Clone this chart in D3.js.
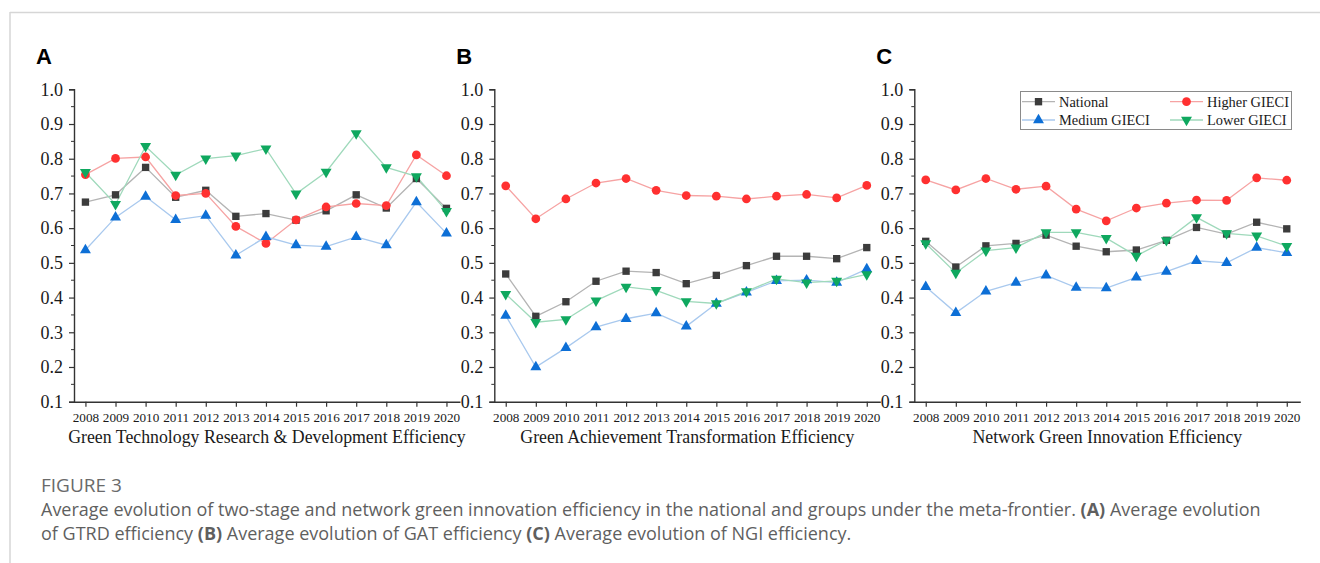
<!DOCTYPE html>
<html>
<head>
<meta charset="utf-8">
<script src="https://cdn.jsdelivr.net/npm/d3@7"></script>
<style>
  body { margin: 0; background: #fff; }
  svg { display: block; }
</style>
</head>
<body>
<div id="chart"></div>
<script>
// Data
const years = [2008, 2009, 2010, 2011, 2012, 2013, 2014, 2015, 2016, 2017, 2018, 2019, 2020]
const yTicks = [0.1, 0.2, 0.3, 0.4, 0.5, 0.6, 0.7, 0.8, 0.9, 1.0]
const seriesNames = ['National', 'Higher GIECI', 'Medium GIECI', 'Lower GIECI']

// Panel A: Green Technology Research & Development Efficiency
const gtrdNational = [0.675, 0.696, 0.775, 0.689, 0.709, 0.634, 0.642, 0.623, 0.650, 0.696, 0.658, 0.743, 0.657]
const gtrdHigher = [0.754, 0.801, 0.805, 0.694, 0.700, 0.605, 0.556, 0.624, 0.661, 0.671, 0.665, 0.811, 0.751]
const gtrdMedium = [0.537, 0.631, 0.691, 0.624, 0.636, 0.522, 0.575, 0.551, 0.547, 0.575, 0.551, 0.675, 0.585]
const gtrdLower = [0.761, 0.669, 0.836, 0.753, 0.800, 0.809, 0.829, 0.699, 0.762, 0.873, 0.775, 0.749, 0.649]

// Panel B: Green Achievement Transformation Efficiency
const gatNational = [0.468, 0.346, 0.388, 0.447, 0.476, 0.472, 0.440, 0.464, 0.492, 0.519, 0.519, 0.512, 0.544]
const gatHigher = [0.722, 0.627, 0.684, 0.730, 0.743, 0.709, 0.694, 0.692, 0.684, 0.692, 0.697, 0.687, 0.723]
const gatMedium = [0.348, 0.200, 0.255, 0.315, 0.339, 0.355, 0.317, 0.383, 0.415, 0.448, 0.450, 0.443, 0.482]
const gatLower = [0.410, 0.329, 0.337, 0.391, 0.431, 0.421, 0.389, 0.383, 0.418, 0.454, 0.443, 0.448, 0.467]

// Panel C: Network Green Innovation Efficiency
const ngiNational = [0.562, 0.488, 0.549, 0.556, 0.580, 0.548, 0.532, 0.537, 0.565, 0.602, 0.583, 0.617, 0.598]
const ngiHigher = [0.739, 0.710, 0.743, 0.712, 0.721, 0.655, 0.621, 0.658, 0.672, 0.681, 0.680, 0.745, 0.738]
const ngiMedium = [0.431, 0.356, 0.418, 0.443, 0.464, 0.429, 0.427, 0.458, 0.475, 0.506, 0.500, 0.544, 0.529]
const ngiLower = [0.556, 0.471, 0.535, 0.544, 0.588, 0.588, 0.571, 0.520, 0.565, 0.631, 0.585, 0.578, 0.548]

const panelLetters = ['A', 'B', 'C']
const panelTitles = [
  'Green Technology Research & Development Efficiency',
  'Green Achievement Transformation Efficiency',
  'Network Green Innovation Efficiency',
]

const figureLabel = 'FIGURE 3'

// Styles per series
const styles = [
  { line: '#b4b4b4', fill: '#3c3c3c', symbol: d3.symbolSquare, size: 54, rotate: 0 },
  { line: '#f6a3a3', fill: '#ff3030', symbol: d3.symbolCircle, size: 60, rotate: 0 },
  { line: '#a9c9ee', fill: '#0d6fd6', symbol: d3.symbolTriangle, size: 52, rotate: 0 },
  { line: '#9fd9bb', fill: '#0fa85f', symbol: d3.symbolTriangle, size: 52, rotate: 180 },
]

const panels = [
  [gtrdNational, gtrdHigher, gtrdMedium, gtrdLower],
  [gatNational, gatHigher, gatMedium, gatLower],
  [ngiNational, ngiHigher, ngiMedium, ngiLower],
]

// Dimensions
const dimensions = {
  width: 1320,
  height: 563,
  top: 89.3,
  bottom: 401.7,
  plotWidth: 386,
  lefts: [74, 494.3, 914.3],
}

const svg = d3
  .select('#chart')
  .append('svg')
  .attr('width', dimensions.width)
  .attr('height', dimensions.height)

// Outer frame (top and left rules)
svg.append('line')
  .attr('x1', 10).attr('x2', dimensions.width)
  .attr('y1', 12.5).attr('y2', 12.5)
  .attr('stroke', '#d6d6d6').attr('stroke-width', 1.5)
svg.append('line')
  .attr('x1', 10).attr('x2', 10)
  .attr('y1', 12).attr('y2', dimensions.height)
  .attr('stroke', '#d6d6d6').attr('stroke-width', 1.5)

const yScale = d3
  .scaleLinear()
  .domain([0.1, 1.0])
  .range([dimensions.bottom, dimensions.top])

const serif = '"Liberation Serif", "Times New Roman", serif'

panels.forEach((series, p) => {
  const left = dimensions.lefts[p]
  const xScale = d3
    .scaleLinear()
    .domain([2007.62, 2020.45])
    .range([left, left + dimensions.plotWidth])

  const ctr = svg.append('g')

  // Panel letter
  ctr.append('text')
    .attr('x', left - 38)
    .attr('y', 64)
    .attr('font-family', '"Liberation Sans", Arial, sans-serif')
    .attr('font-weight', 'bold')
    .attr('font-size', 22)
    .attr('fill', '#000')
    .text(panelLetters[p])

  // Y axis
  const yAxis = d3.axisLeft(yScale).tickValues(yTicks).tickFormat(d3.format('.1f')).tickSize(5).tickPadding(6)
  const yg = ctr.append('g').attr('transform', `translate(${left},0)`).call(yAxis)
  yg.select('.domain').attr('stroke', '#333').attr('stroke-width', 1.4)
  yg.selectAll('.tick line').attr('stroke', '#333').attr('stroke-width', 1.2)
  yg.selectAll('.tick text')
    .attr('font-family', serif).attr('font-size', 18).attr('fill', '#1a1a1a')

  // minor ticks
  const minor = d3.range(0.15, 1.0, 0.1)
  ctr.append('g').selectAll('line')
    .data(minor)
    .join('line')
    .attr('x1', left - 3).attr('x2', left)
    .attr('y1', (d) => yScale(d)).attr('y2', (d) => yScale(d))
    .attr('stroke', '#333').attr('stroke-width', 1)

  // X axis
  const xAxis = d3.axisBottom(xScale).tickValues(years).tickFormat(d3.format('d')).tickSize(5).tickSizeOuter(0).tickPadding(6)
  const xg = ctr.append('g').attr('transform', `translate(0,${dimensions.bottom})`).call(xAxis)
  xg.select('.domain').attr('stroke', '#333').attr('stroke-width', 1.4)
  xg.selectAll('.tick line').attr('stroke', '#333').attr('stroke-width', 1.2)
  xg.selectAll('.tick text')
    .attr('font-family', serif).attr('font-size', 13.2).attr('fill', '#1a1a1a')

  // Axis title
  ctr.append('text')
    .attr('x', left + dimensions.plotWidth / 2)
    .attr('y', 443)
    .attr('text-anchor', 'middle')
    .attr('font-family', serif)
    .attr('font-size', 17.8)
    .attr('fill', '#1a1a1a')
    .text(panelTitles[p])

  // Lines then markers
  const lineGenerator = d3
    .line()
    .x((d, i) => xScale(years[i]))
    .y((d) => yScale(d))

  series.forEach((values, s) => {
    ctr.append('path')
      .datum(values)
      .attr('d', lineGenerator)
      .attr('fill', 'none')
      .attr('stroke', styles[s].line)
      .attr('stroke-width', 1.3)
  })

  series.forEach((values, s) => {
    const st = styles[s]
    ctr.append('g').selectAll('path')
      .data(values)
      .join('path')
      .attr('d', d3.symbol().type(st.symbol).size(st.size))
      .attr('transform', (d, i) => `translate(${xScale(years[i])},${yScale(d)}) rotate(${st.rotate})`)
      .attr('fill', st.fill)
  })
})

// Legend (inside panel C)
const legend = svg.append('g')
legend.append('rect')
  .attr('x', 1020.5).attr('y', 91.5)
  .attr('width', 271).attr('height', 38)
  .attr('fill', '#fff')
  .attr('stroke', '#8a8a8a').attr('stroke-width', 1)

const legendPos = [
  { x: 1022, y: 101.7 },
  { x: 1170, y: 101.7 },
  { x: 1022, y: 120 },
  { x: 1170, y: 120 },
]

seriesNames.forEach((name, s) => {
  const pos = legendPos[s]
  const st = styles[s]
  legend.append('line')
    .attr('x1', pos.x).attr('x2', pos.x + 33)
    .attr('y1', pos.y).attr('y2', pos.y)
    .attr('stroke', st.line).attr('stroke-width', 1.3)
  legend.append('path')
    .attr('d', d3.symbol().type(st.symbol).size(st.size))
    .attr('transform', `translate(${pos.x + 16.5},${pos.y}) rotate(${st.rotate})`)
    .attr('fill', st.fill)
  legend.append('text')
    .attr('x', pos.x + 37)
    .attr('y', pos.y)
    .attr('dy', '0.35em')
    .attr('font-family', serif)
    .attr('font-size', 14.4)
    .attr('fill', '#1a1a1a')
    .text(name)
})

// Caption
const caption = svg.append('g')
  .attr('font-family', '"Open Sans", "Noto Sans", sans-serif')
  .attr('fill', '#5f5f5f')

caption.append('text')
  .attr('x', 41).attr('y', 492)
  .attr('font-size', 19)
  .attr('fill', '#6a6a6a')
  .text(figureLabel)

const line1 = caption.append('text').attr('x', 41).attr('y', 516).attr('font-size', 18)
line1.append('tspan').text('Average evolution of two-stage and network green innovation efficiency in the national and groups under the meta-frontier. ')
line1.append('tspan').attr('font-weight', 'bold').text('(A)')
line1.append('tspan').text(' Average evolution')

const line2 = caption.append('text').attr('x', 41).attr('y', 540).attr('font-size', 18)
line2.append('tspan').text('of GTRD efficiency ')
line2.append('tspan').attr('font-weight', 'bold').text('(B)')
line2.append('tspan').text(' Average evolution of GAT efficiency ')
line2.append('tspan').attr('font-weight', 'bold').text('(C)')
line2.append('tspan').text(' Average evolution of NGI efficiency.')
</script>
</body>
</html>
